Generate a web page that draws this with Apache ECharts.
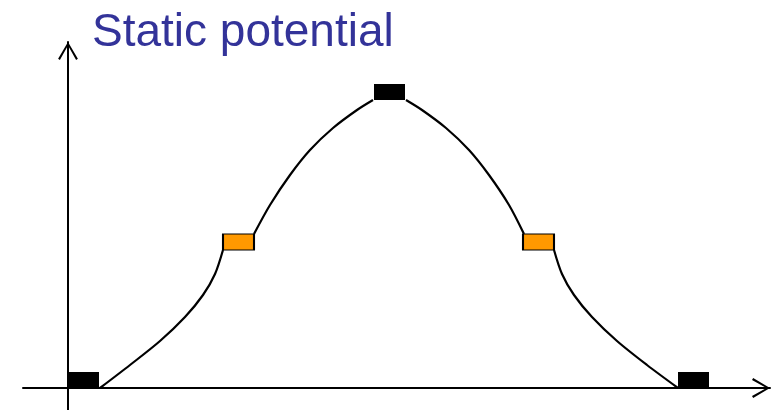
<!DOCTYPE html>
<html>
<head>
<meta charset="utf-8">
<script src="https://cdn.jsdelivr.net/npm/echarts@6/dist/echarts.min.js"></script>
<style>html,body{margin:0;padding:0;background:#fff;}#c{width:779px;height:410px;}</style>
</head>
<body>
<div id="c"></div>
<script>
// Axis extents (data units)
const xRange = [-45, 702];
const yRange = [-22, 346];
const titleText = 'Static potential';

// Curve pieces between markers, [x, y]
const curveRise = [[32,0],[62,23],[92,47],[117,71],[135,93],[147,114],[155,138]];
const curveToPeak = [[186,154],[202,183],[222,213],[242,238],[265,260],[289,278],[305,288]];
const curveFromPeak = [[338,288],[354,278],[378,260],[401,238],[421,213],[441,183],[456,154]];
const curveFall = [[486,138],[494,114],[506,93],[524,71],[549,47],[579,23],[610,0]];

// Marker positions
const blackMarkers = [[15.5,8],[321.5,296],[625.5,8]];
const orangeMarkers = [[170.5,146],[470.5,146]];

const chevron = 'path://M10,0 L20,17 L18.2,18.2 L10,3.6 L1.8,18.2 L0,17 Z';

function lineSeries(data) {
  return {
    type: 'line', data: data, smooth: 0.3, showSymbol: false, symbol: 'none',
    lineStyle: {color: '#000', width: 2.2}, z: 2, silent: true
  };
}

const chart = echarts.init(document.getElementById('c'), null, {renderer: 'canvas'});
chart.setOption({
  animation: false,
  backgroundColor: '#fff',
  title: {
    text: titleText, left: 87, top: 5,
    textStyle: {color: '#333399', fontFamily: 'Liberation Sans, Arial, sans-serif', fontSize: 46, fontWeight: 'normal'}
  },
  grid: {left: 23, right: 9, top: 42, bottom: 0, containLabel: false},
  xAxis: {
    type: 'value', min: xRange[0], max: xRange[1],
    axisLine: {onZero: true, lineStyle: {color: '#000', width: 2}, symbol: ['none', chevron], symbolSize: [20, 18], symbolOffset: [0, -9]},
    axisTick: {show: false}, axisLabel: {show: false}, splitLine: {show: false}
  },
  yAxis: {
    type: 'value', min: yRange[0], max: yRange[1],
    axisLine: {show: true, onZero: true, lineStyle: {color: '#000', width: 2}, symbol: ['none', chevron], symbolSize: [20, 18], symbolOffset: [0, -9]},
    axisTick: {show: false}, axisLabel: {show: false}, splitLine: {show: false}
  },
  series: [
    lineSeries(curveRise), lineSeries(curveToPeak), lineSeries(curveFromPeak), lineSeries(curveFall),
    {type: 'scatter', data: blackMarkers, symbol: 'rect', symbolSize: [31, 16], itemStyle: {color: '#000', opacity: 1}, z: 5, silent: true},
    {type: 'scatter', data: orangeMarkers, symbol: 'rect', symbolSize: [31, 16], itemStyle: {color: '#FF9900', borderColor: '#000', borderWidth: 1.5, opacity: 1}, z: 5, silent: true}
  ]
});
</script>
</body>
</html>
